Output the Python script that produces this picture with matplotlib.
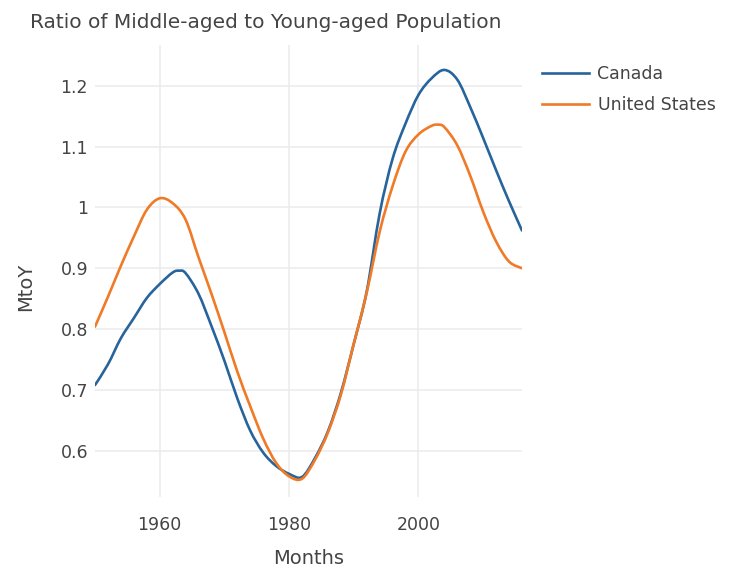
import matplotlib
matplotlib.use('Agg')
import matplotlib.pyplot as plt
from matplotlib.path import Path
from matplotlib.patches import PathPatch
from matplotlib.lines import Line2D
from matplotlib.ticker import FuncFormatter

# values
canada_years = [1950, 1952, 1954, 1956, 1958, 1960, 1962, 1963, 1964, 1966, 1968, 1970,
                1972, 1974, 1976, 1978, 1980, 1982, 1984, 1986, 1988, 1990, 1992, 1994,
                1996, 1998, 2000, 2002, 2004, 2006, 2008, 2010, 2012, 2014, 2016]
canada = [0.708, 0.742, 0.785, 0.818, 0.851, 0.874, 0.893, 0.896, 0.892, 0.858, 0.805, 0.748,
          0.686, 0.633, 0.597, 0.575, 0.562, 0.557, 0.588, 0.632, 0.695, 0.776, 0.862, 0.99,
          1.08, 1.138, 1.185, 1.212, 1.226, 1.21, 1.165, 1.114, 1.061, 1.01, 0.962]

us_years = [1950, 1952, 1954, 1956, 1958, 1960, 1962, 1964, 1966, 1968, 1970, 1972,
            1974, 1976, 1978, 1980, 1982, 1984, 1986, 1988, 1990, 1992, 1994, 1996,
            1998, 2000, 2002, 2003, 2004, 2006, 2008, 2010, 2012, 2014, 2016]
us = [0.804, 0.853, 0.904, 0.952, 0.996, 1.015, 1.007, 0.98, 0.918, 0.858, 0.795, 0.730,
      0.673, 0.620, 0.580, 0.558, 0.554, 0.585, 0.630, 0.692, 0.776, 0.860, 0.960, 1.035,
      1.092, 1.12, 1.134, 1.136, 1.132, 1.102, 1.052, 0.993, 0.944, 0.911, 0.900]

x_ticks = [1960, 1980, 2000]
y_ticks = [0.6, 0.7, 0.8, 0.9, 1.0, 1.1, 1.2]


def spline_path(xs, ys):
    # smooth line shape (Catmull-Rom drawn as cubic Bezier segments)
    pts = list(zip(xs, ys))
    verts = [pts[0]]
    codes = [Path.MOVETO]
    n = len(pts)
    for i in range(n - 1):
        p0 = pts[max(i - 1, 0)]
        p1 = pts[i]
        p2 = pts[i + 1]
        p3 = pts[min(i + 2, n - 1)]
        c1 = (p1[0] + (p2[0] - p0[0]) / 6, p1[1] + (p2[1] - p0[1]) / 6)
        c2 = (p2[0] - (p3[0] - p1[0]) / 6, p2[1] - (p3[1] - p1[1]) / 6)
        verts += [c1, c2, p2]
        codes += [Path.CURVE4] * 3
    return Path(verts, codes)


W, H = 733, 573
fig = plt.figure(figsize=(W / 100, H / 100), dpi=100)
ax = fig.add_axes([95 / W, 1 - 497 / H, (522 - 95) / W, (497 - 45) / H])

blue, orange = '#27649c', '#f07a25'
for xs, ys, c in [(canada_years, canada, blue), (us_years, us, orange)]:
    ax.add_patch(PathPatch(spline_path(xs, ys), fill=False, edgecolor=c, lw=1.9,
                           capstyle='round', joinstyle='round'))

ax.set_xlim(1950, 2016)
ax.set_ylim(0.524, 1.267)
ax.set_xticks(x_ticks)
ax.set_yticks(y_ticks)
ax.yaxis.set_major_formatter(FuncFormatter(lambda v, p: '%g' % round(v, 2)))
ax.tick_params(length=0, labelsize=12.5, colors='#444444')
ax.tick_params(axis='x', pad=14)
ax.tick_params(axis='y', pad=5)
ax.grid(True, color='#ebebeb', lw=1.1)
ax.set_axisbelow(True)
for s in ax.spines.values():
    s.set_visible(False)

ax.set_xlabel('Months', fontsize=14, color='#444444')
ax.set_ylabel('MtoY', fontsize=14, color='#444444')
ax.xaxis.set_label_coords(0.5, -0.115)
ax.yaxis.set_label_coords(-0.14, 0.465)

fig.text(266 / W, 1 - 22 / H, 'Ratio of Middle-aged to Young-aged Population',
         ha='center', va='center', fontsize=14.5, color='#444444')

handles = [Line2D([], [], color=blue, lw=1.9), Line2D([], [], color=orange, lw=1.9)]
ax.legend(handles, ['Canada', 'United States'], loc='upper left',
          bbox_to_anchor=(535 / W, 1 - 58 / H),
          bbox_transform=fig.transFigure, frameon=False, fontsize=12.5,
          handlelength=2.7, handletextpad=0.5, labelspacing=0.75, borderaxespad=0,
          labelcolor='#444444')

fig.savefig('out.png', dpi=100)
